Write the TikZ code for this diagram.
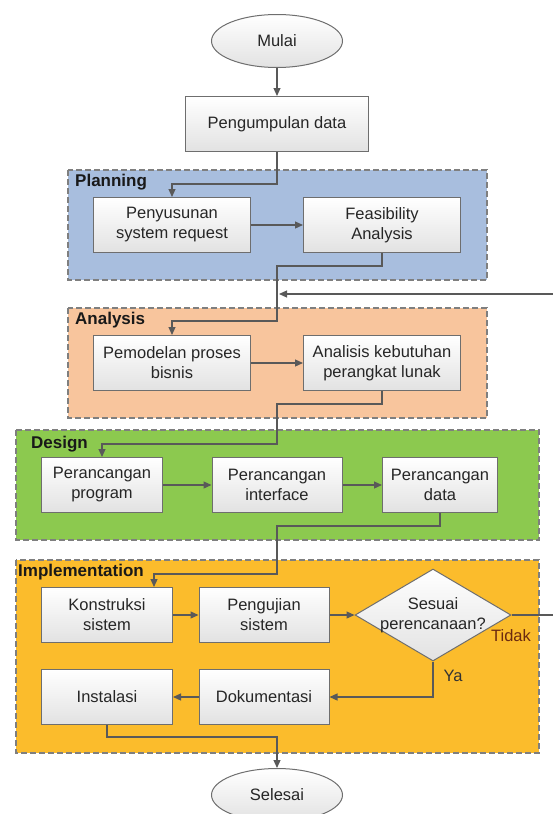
\documentclass[tikz,border=0pt]{standalone}
\usepackage{fontspec}
\setmainfont{Liberation Sans}
\usetikzlibrary{shapes.geometric,arrows.meta,calc}

\definecolor{planfill}{HTML}{A8BEDE}
\definecolor{anafill}{HTML}{F8C59D}
\definecolor{desfill}{HTML}{8CC94F}
\definecolor{impfill}{HTML}{FBBC2C}
\definecolor{garis}{HTML}{595959}
\definecolor{batas}{HTML}{7F7F7F}
\definecolor{boxline}{HTML}{6E6E6E}
\definecolor{boxbot}{HTML}{E2E2E2}
\definecolor{txt}{HTML}{262626}
\definecolor{tidakclr}{HTML}{6B2A10}

\begin{document}
\begin{tikzpicture}[x=1pt,y=-1pt,
	proses/.style={draw=boxline,line width=1pt,top color=white,bottom color=boxbot,
		minimum height=55pt,inner sep=2pt,align=center,text=txt,
		font=\fontsize{16.5}{20}\selectfont},
	terminal/.style={proses,ellipse,minimum width=131pt,minimum height=53pt},
	keputusan/.style={proses,diamond,inner sep=0pt,minimum width=156pt,minimum height=92pt},
	teks/.style={align=center,text=txt,inner sep=0pt,font=\fontsize{16.5}{20}\selectfont},
	fase/.style={draw=batas,line width=1.2pt,dash pattern=on 6pt off 3pt},
	judul/.style={anchor=west,inner sep=0pt,text=black!90,font=\fontsize{17}{20}\selectfont\bfseries},
	arr/.style={draw=garis,line width=1.2pt,-{Triangle[length=8pt,width=7pt]}}]
	\useasboundingbox (0,0) rectangle (552,814);

	% fase
	\draw[fase,fill=planfill] (68,170) rectangle (487,280);
	\draw[fase,fill=anafill] (68,308) rectangle (487,418);
	\draw[fase,fill=desfill] (16,430) rectangle (539,540);
	\draw[fase,fill=impfill] (16,560) rectangle (539,753);
	\node[judul] (lplan) at (75,182) {Planning};
	\node[judul] (lana) at (75,320) {Analysis};
	\node[judul] (ldes) at (31,444) {Design};
	\node[judul] (limp) at (18,572) {Implementation};

	% langkah
	\node[terminal] (mulai) at (277,41) {Mulai};
	\node[proses,minimum width=183pt] (kumpul) at (277,124) {Pengumpulan data};
	\node[proses,minimum width=157pt] (susun) at (172,225) {Penyusunan\\system request};
	\node[proses,minimum width=157pt] (feas) at (382,225) {Feasibility\\Analysis};
	\node[proses,minimum width=157pt] (model) at (172,363) {Pemodelan proses\\bisnis};
	\node[proses,minimum width=157pt] (butuh) at (382,363) {Analisis kebutuhan\\perangkat lunak};
	\node[proses,minimum width=121pt] (prog) at (102,485) {Perancangan\\program};
	\node[proses,minimum width=130pt] (intf) at (277,485) {Perancangan\\interface};
	\node[proses,minimum width=115pt] (dat) at (440,485) {Perancangan\\data};
	\node[proses,minimum width=131pt] (konst) at (107,615) {Konstruksi\\sistem};
	\node[proses,minimum width=130pt] (uji) at (264,615) {Pengujian\\sistem};
	\node[keputusan] (sesuai) at (433,615) {};
	\node[teks] (sesuaitxt) at (sesuai) {Sesuai\\perencanaan?};
	\node[proses,minimum width=131pt] (inst) at (107,697) {Instalasi};
	\node[proses,minimum width=130pt] (doku) at (264,697) {Dokumentasi};
	\node[terminal] (selesai) at (277,795) {Selesai};
	\node[teks,text=tidakclr] (ltidak) at (511,636) {Tidak};
	\node[teks,text=black!80] (lya) at (453,676) {Ya};
	\coordinate (balik) at (279,294);

	% alur
	\draw[arr] (mulai) -- (kumpul);
	\draw[arr] (kumpul.south) -- ++(0,32) -| (susun.north);
	\draw[arr] (susun) -- (feas);
	\draw[arr] (feas.south) -- ++(0,13) -| (277,321) -| (model.north);
	\draw[arr] (model) -- (butuh);
	\draw[arr] (butuh.south) -- ++(0,13) -| (277,444) -| (prog.north);
	\draw[arr] (prog) -- (intf);
	\draw[arr] (intf) -- (dat);
	\draw[arr] (dat.south) -- ++(0,13) -| (277,574) -| ([xshift=-19pt]konst.north east);
	\draw[arr] (konst) -- (uji);
	\draw[arr] (uji) -- (sesuai.west);
	\draw[arr] (sesuai.east) -- ++(60,0) |- (balik);
	\draw[arr] (sesuai.south) |- (doku.east);
	\draw[arr] (doku) -- (inst);
	\draw[arr] (inst.south) -- ++(0,12) -| (selesai.north);
\end{tikzpicture}
\end{document}
